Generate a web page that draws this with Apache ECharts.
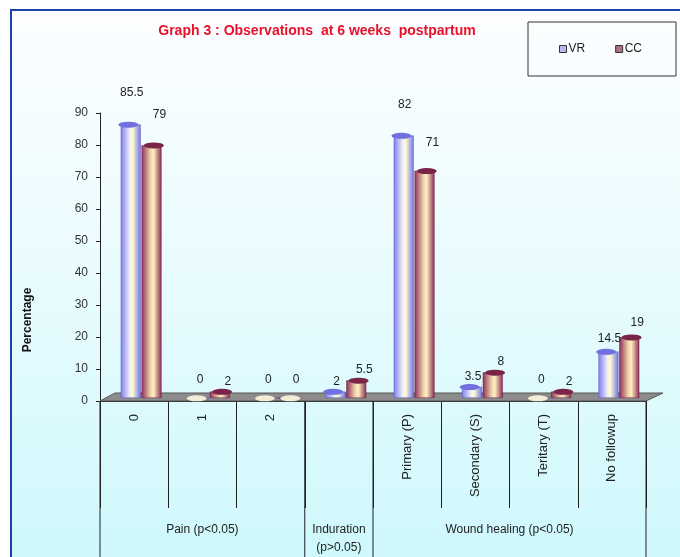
<!DOCTYPE html>
<html>
<head>
<meta charset="utf-8">
<script src="https://cdn.jsdelivr.net/npm/echarts@6/dist/echarts.min.js"></script>
<style>
  html, body { margin: 0; padding: 0; background: #fff; }
  #container { width: 680px; height: 557px; }
</style>
</head>
<body>
<div id="container"></div>
<script>
  // chart data
  let categories = ['0', '1', '2', '', 'Primary (P)', 'Secondary (S)', 'Teritary (T)', 'No followup'];
  let vrData = [85.5, 0, 0, 2, 82, 3.5, 0, 14.5];
  let ccData = [79, 2, 0, 5.5, 71, 8, 2, 19];
  let groupNames = ['Pain (p<0.05)', 'Induration\n(p>0.05)', 'Wound healing (p<0.05)'];
  let groupSpans = [3, 1, 4];
  let yTicks = [0, 10, 20, 30, 40, 50, 60, 70, 80, 90];

  let myChart = echarts.init(document.getElementById('container'));

  let vrColor = new echarts.graphic.LinearGradient(0, 0, 1, 0, [
    { offset: 0, color: '#7c7cf0' },
    { offset: 0.45, color: '#f0eef6' },
    { offset: 0.6, color: '#fffbd0' },
    { offset: 1, color: '#7272ea' }
  ]);
  let ccColor = new echarts.graphic.LinearGradient(0, 0, 1, 0, [
    { offset: 0, color: '#8e2c58' },
    { offset: 0.45, color: '#f0d4ac' },
    { offset: 0.6, color: '#fff0c0' },
    { offset: 1, color: '#8a2a55' }
  ]);

  // labels sit a little higher above the taller cylinders
  function withLabels(values) {
    return values.map(function (v) {
      return { value: v, label: { distance: v === 0 ? 12 : 3 + 0.27 * v } };
    });
  }

  // flat cream disc where the value is zero
  function caps(values, color, border) {
    return values.map(function (v) {
      if (v === 0) {
        return { value: v, itemStyle: { color: '#f3ecd6', borderColor: '#777' } };
      }
      return { value: v, itemStyle: { color: color, borderColor: border } };
    });
  }

  let labelStyle = {
    show: true,
    position: 'top',
    fontFamily: 'Liberation Sans',
    fontSize: 12,
    color: '#222'
  };

  let option = {
    backgroundColor: '#fff',
    animation: false,
    title: {
      text: 'Graph 3 : Observations  at 6 weeks  postpartum',
      left: 312,
      textAlign: 'center',
      top: 19,
      textStyle: {
        color: '#e8102a',
        fontFamily: 'Liberation Sans',
        fontSize: 14,
        fontWeight: 'bold'
      }
    },
    legend: {
      data: [
        { name: 'VR', itemStyle: { color: '#b8b8f0', borderColor: '#333', borderWidth: 1 } },
        { name: 'CC', itemStyle: { color: '#b07080', borderColor: '#333', borderWidth: 1 } }
      ],
      left: 528,
      top: 22,
      padding: [21, 34, 21, 31],
      borderColor: '#333',
      borderWidth: 1,
      icon: 'rect',
      itemWidth: 7,
      itemHeight: 7,
      itemGap: 30,
      textStyle: { fontFamily: 'Liberation Sans', fontSize: 12, color: '#222', padding: [0, 0, 0, -3] }
    },
    grid: [
      { left: 100, right: 34, top: 113, bottom: 156 },
      // bars stand in the middle of the floor, a bit back and to the right
      { left: 107, right: 27, top: 110, bottom: 159 }
    ],
    xAxis: [
      {
        type: 'category',
        gridIndex: 0,
        data: categories,
        axisLine: { lineStyle: { color: '#222' } },
        axisTick: { show: true, interval: 0, length: 107, lineStyle: { color: '#222' } },
        axisLabel: {
          interval: 0,
          rotate: 90,
          margin: 13,
          fontFamily: 'Liberation Sans',
          fontSize: 13,
          color: '#222'
        }
      },
      { type: 'category', gridIndex: 1, data: categories, show: false }
    ],
    yAxis: [
      {
        type: 'value',
        gridIndex: 0,
        min: 0,
        max: 90,
        interval: 10,
        name: 'Percentage',
        nameLocation: 'middle',
        nameGap: 66,
        nameTextStyle: {
          fontFamily: 'Liberation Sans',
          fontSize: 12,
          fontWeight: 'bold',
          color: '#111',
          padding: [0, 126, 0, 0]
        },
        splitLine: { show: false },
        axisLine: { show: true, lineStyle: { color: '#222' } },
        axisTick: { show: true, length: 4, lineStyle: { color: '#222' } },
        axisLabel: {
          fontFamily: 'Liberation Sans',
          fontSize: 12,
          color: '#333',
          margin: 12
        }
      },
      { type: 'value', gridIndex: 1, min: 0, max: 90, interval: 10, show: false }
    ],
    series: [
      {
        name: 'VR',
        type: 'bar',
        xAxisIndex: 1,
        yAxisIndex: 1,
        data: withLabels(vrData),
        barWidth: 20,
        barGap: '4%',
        z: 3,
        itemStyle: { color: vrColor, borderColor: '#5a5ac0', borderWidth: 0.5 },
        label: Object.assign({ offset: [1, 0] }, labelStyle)
      },
      {
        name: 'CC',
        type: 'bar',
        xAxisIndex: 1,
        yAxisIndex: 1,
        data: withLabels(ccData),
        barWidth: 20,
        barGap: '4%',
        z: 3,
        itemStyle: { color: ccColor, borderColor: '#6a1f40', borderWidth: 0.5 },
        label: Object.assign({ offset: [8, 0] }, labelStyle)
      },
      {
        type: 'pictorialBar',
        xAxisIndex: 1,
        yAxisIndex: 1,
        data: caps(vrData, '#7070e0', '#202070'),
        symbol: 'circle',
        symbolSize: [20, 6],
        symbolPosition: 'end',
        symbolOffset: [0, '-50%'],
        barGap: '4%',
        z: 4,
        itemStyle: { borderWidth: 1 }
      },
      {
        type: 'pictorialBar',
        xAxisIndex: 1,
        yAxisIndex: 1,
        data: caps(ccData, '#7a2448', '#3a0a20'),
        symbol: 'circle',
        symbolSize: [20, 6],
        symbolPosition: 'end',
        symbolOffset: [0, '-50%'],
        barGap: '4%',
        z: 4,
        itemStyle: { borderWidth: 1 }
      }
    ]
  };

  myChart.setOption(option);

  // frame, floor and the group table under the axis
  function drawExtras() {
    let x0 = myChart.convertToPixel({ xAxisIndex: 0 }, 0);
    let x1 = myChart.convertToPixel({ xAxisIndex: 0 }, 1);
    let band = x1 - x0;
    let left = x0 - band / 2;
    let right = left + band * categories.length;
    let y0 = myChart.convertToPixel({ yAxisIndex: 0 }, yTicks[0]);
    let elements = [
      {
        type: 'rect',
        z: -10,
        shape: { x: 11, y: 10, width: 700, height: 600 },
        style: {
          fill: new echarts.graphic.LinearGradient(0, 0, 0, 1, [
            { offset: 0, color: '#fdfeff' },
            { offset: 0.5, color: '#e6fbfe' },
            { offset: 1, color: '#c9f8fc' }
          ]),
          stroke: '#1d43a8',
          lineWidth: 2
        }
      },
      {
        type: 'polygon',
        z: 1,
        shape: { points: [[left, y0], [right, y0], [right + 17, y0 - 8], [left + 15, y0 - 8]] },
        style: { fill: '#8c8c8c', stroke: '#555', lineWidth: 1 }
      }
    ];
    let start = 0;
    for (let g = 0; g <= groupNames.length; g++) {
      let xb = left + band * start;
      elements.push({
        type: 'line',
        z: 5,
        shape: { x1: xb, y1: y0, x2: xb, y2: 560 },
        style: { stroke: '#222', lineWidth: 1 }
      });
      if (g < groupNames.length) {
        let cx = left + band * (start + groupSpans[g] / 2);
        elements.push({
          type: 'text',
          z: 5,
          x: cx,
          y: 521,
          style: {
            text: groupNames[g],
            align: 'center',
            verticalAlign: 'top',
            font: '12px "Liberation Sans"',
            fill: '#222',
            lineHeight: 18
          }
        });
        start += groupSpans[g];
      }
    }
    myChart.setOption({ graphic: elements });
  }
  drawExtras();
</script>
</body>
</html>
